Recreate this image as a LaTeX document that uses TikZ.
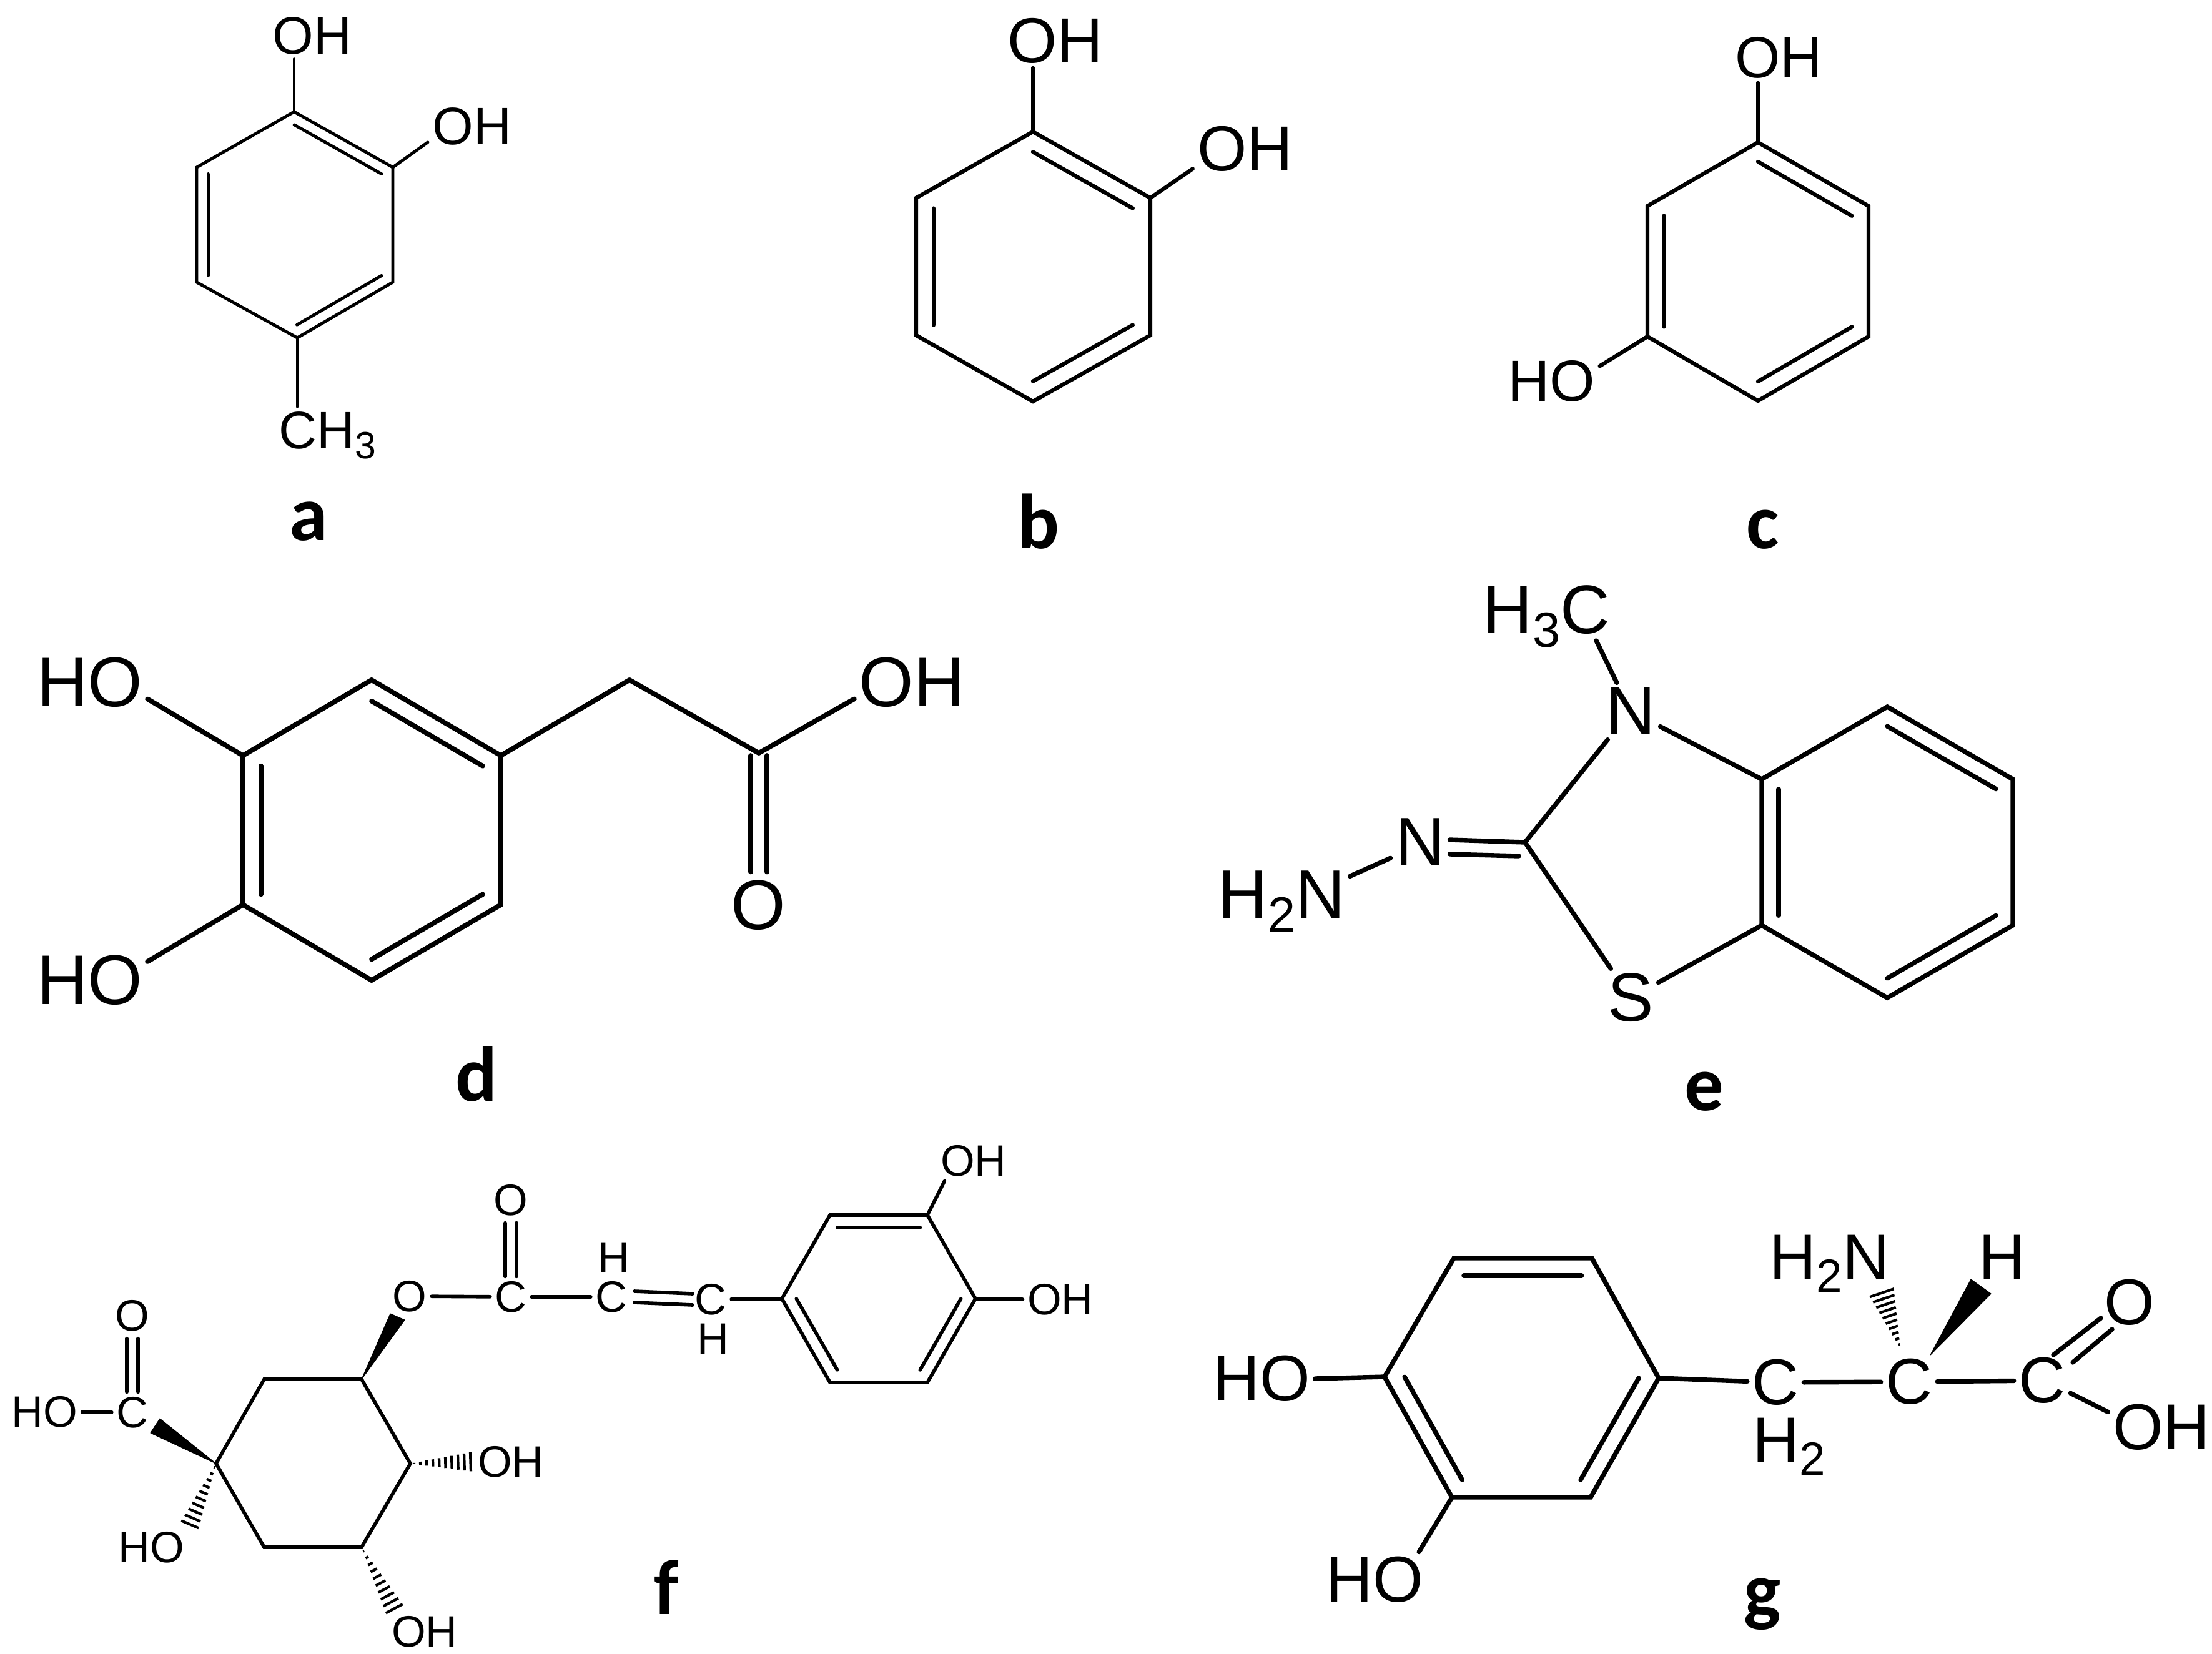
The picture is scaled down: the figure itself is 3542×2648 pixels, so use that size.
\documentclass[tikz,border=0pt]{standalone}
\usepackage{fontspec}
\setmainfont{Liberation Sans}
\newfontfamily\labelfont{Carlito}
\usetikzlibrary{calc}
\newcommand{\subtxt}[1]{\raisebox{-.2em}{\scalebox{.72}{#1}}}
\tikzset{
    atom/.style =   {inner sep=2pt,
                    text=black,
                    font=\fontsize{#1}{#1}\selectfont},
    letter/.style = {anchor=base,
                    inner sep=0pt,
                    text=black,
                    font=\labelfont\bfseries\fontsize{35.5}{36}\selectfont},
    bond/.style =   {draw=black,
                    line width=#1,
                    line cap=round},
    wedgebond/.style = {fill=black,
                    draw=black,
                    line width=.3pt,
                    line join=round},
    hashline/.style = {draw=black,
                    line width=1.2pt}
}
% benzene ring: vertices 1..6 and centre c must exist
\newcommand{\ringmol}[3]{
    \draw[bond=#2] (#11) -- (#12) -- (#13) -- (#14) -- (#15) -- (#16) -- cycle;
    \foreach \p/\q in {1/2,3/4,5/6}
        \draw[bond=#2] ($(#1\p)!#3!(#1c)$) -- ($(#1\q)!#3!(#1c)$);
}
\newcommand{\hashbond}[3]{
    \foreach \t in {0.06,0.16,...,0.97} {
        \pgfmathsetmacro\hw{\t*#3}
        \draw[hashline] ($#1!\t!#2!\hw pt!90:#2$) -- ($#1!\t!#2!\hw pt!-90:#2$);
    }
}
\begin{document}
\begin{tikzpicture}[x=0.01cm,y=-0.01cm]
    \useasboundingbox[fill=white] (0,0) rectangle (3542,2648);

    % a
    \begin{scope}[xshift=-.02cm]
    \coordinate (a1) at (473,179); \coordinate (a2) at (631,268); \coordinate (a3) at (631,452);
    \coordinate (a4) at (478,541); \coordinate (a5) at (317,452); \coordinate (a6) at (317,268);
    \coordinate (ac) at (474,360);
    \ringmol{a}{1.4pt}{.115}
    \node[atom=24] (aOHa) at (502,57) {OH};
    \node[atom=24] (aOHb) at (758,202) {OH};
    \node[atom=24,anchor=base west] (aCH) at (441,718) {CH\subtxt{3}};
    \path [bond=1.4pt] (a1) edge (a1 |- aOHa.south)
                       (a2) edge (aOHb.200)
                       (a4) edge (a4 |- aCH.north);
    \node[letter] (aL) at (496,865) {a};
    \end{scope}

    % b
    \begin{scope}[xshift=-.06cm]
    \coordinate (b1) at (1660,211); \coordinate (b2) at (1848,317); \coordinate (b3) at (1848,537);
    \coordinate (b4) at (1660,643); \coordinate (b5) at (1473,537); \coordinate (b6) at (1473,317);
    \coordinate (bc) at (1660,427);
    \ringmol{b}{1.8pt}{.15}
    \node[atom=29] (bOHa) at (1696,65) {OH};
    \node[atom=29] (bOHb) at (2000,238) {OH};
    \path [bond=1.8pt] (b1) edge (b1 |- bOHa.south)
                       (b2) edge (bOHb.201);
    \node[letter] (bL) at (1669,878) {b};
    \end{scope}

    % c
    \begin{scope}[xshift=-.03cm]
    \coordinate (c1) at (2818,228); \coordinate (c2) at (2995,330); \coordinate (c3) at (2995,539);
    \coordinate (c4) at (2818,642); \coordinate (c5) at (2641,539); \coordinate (c6) at (2641,330);
    \coordinate (cc) at (2818,435);
    \ringmol{c}{1.8pt}{.15}
    \node[atom=26.5] (cOHa) at (2851,92) {OH};
    \node[atom=26.5] (cHO) at (2487,610) {HO};
    \path [bond=1.8pt] (c1) edge (c1 |- cOHa.south)
                       (c5) edge (cHO.17);
    \node[letter] (cL) at (2826,878) {c};
    \end{scope}

    % d
    \begin{scope}[xshift=-.05cm]
    \coordinate (d1) at (600,1089); \coordinate (d2) at (807,1210); \coordinate (d3) at (807,1449);
    \coordinate (d4) at (600,1570); \coordinate (d5) at (394,1449); \coordinate (d6) at (394,1210);
    \coordinate (dc) at (600,1330);
    \coordinate (dCa) at (1013,1089); \coordinate (dCb) at (1220,1206);
    \ringmol{d}{2.2pt}{.14}
    \node[atom=32] (dHOa) at (149,1093) {HO};
    \node[atom=32] (dHOb) at (149,1570) {HO};
    \node[atom=32] (dOH) at (1465,1093) {OH};
    \node[atom=32] (dO) at (1219,1450) {O};
    \path [bond=2.2pt] (d6) edge (dHOa.-16)
                     (d5) edge (dHOb.18)
                     (d2) edge (dCa)
                     (dCa) edge (dCb)
                     (dCb) edge (dOH.196)
                     ($(dCb)+(-13,4)$) edge ($(dO.north)+(-12,-6)$)
                     ($(dCb)+(13,4)$) edge ($(dO.north)+(14,-6)$);
    \node[letter] (dL) at (768,1763) {d};
    \end{scope}

    % e
    \begin{scope}[xshift=-.05cm]
    \coordinate (e1) at (3027,1132); \coordinate (e2) at (3228,1248); \coordinate (e3) at (3228,1482);
    \coordinate (e4) at (3027,1598); \coordinate (e5) at (2826,1482); \coordinate (e6) at (2826,1248);
    \coordinate (ec) at (3027,1365);
    \coordinate (eC) at (2447,1349); \coordinate (eCHb) at (2561,1026);
    \ringmol{e}{2.1pt}{.134}
    \node[atom=31.3] (eNa) at (2616,1139) {N};
    \node[atom=31.3] (eS) at (2616,1598) {S};
    \node[atom=31.3] (eNb) at (2279,1349) {N};
    \node[atom=31.3,anchor=base west] (eCH) at (2372,1014) {H\subtxt{3}C};
    \node[atom=31.3,anchor=base west] (eHN) at (1948,1470) {H\subtxt{2}N};
    \path [bond=2.1pt] (eCHb) edge (eNa)
                       (eNa) edge (e6)
                       (eNa) edge (eC)
                       (eS) edge (eC)
                       (eS) edge (e5)
                       (eHN.20) edge (eNb.208)
                       ($(eNb.east)+(0,-4)$) edge (eC)
                       ($(eNb.east)+(0,19)$) edge ($(eC)+(-10,22)$);
    \node[letter] (eL) at (2734,1778) {e};
    \end{scope}

    % f
    \begin{scope}[xshift=-.04cm]
    \coordinate (fa1) at (1333,1946); \coordinate (fa2) at (1489,1946); \coordinate (fa3) at (1566,2080);
    \coordinate (fa4) at (1489,2214); \coordinate (fa5) at (1333,2214); \coordinate (fa6) at (1256,2080);
    \coordinate (fac) at (1411,2080);
    \coordinate (fq1) at (427,2209); \coordinate (fq2) at (583,2209); \coordinate (fq3) at (661,2344);
    \coordinate (fq4) at (583,2478); \coordinate (fq5) at (427,2478); \coordinate (fq6) at (350,2344);
    \coordinate (fWa) at (629,2104); \coordinate (fWb) at (652,2114);
    \coordinate (fWc) at (260,2272); \coordinate (fWd) at (245,2295);
    \ringmol{fa}{1.6pt}{.15}
    \draw[bond=1.6pt] (fq1) -- (fq2) -- (fq3) -- (fq4) -- (fq5) -- (fq6) -- cycle;
    \node[atom=20] (fOHa) at (1563,1859) {OH};
    \node[atom=20] (fOHb) at (1702,2081) {OH};
    \node[atom=20] (fCc) at (1142,2081) {C};
    \node[atom=20] (fCb) at (983,2077) {C};
    \node[atom=20] (fCa) at (822,2077) {C};
    \node[atom=20,inner sep=0pt] (fHb) at (1146,2144) {H};
    \node[atom=20,inner sep=0pt] (fHa) at (987,2014) {H};
    \node[atom=20] (fOa) at (822,1922) {O};
    \node[atom=20] (fOb) at (660,2076) {O};
    \node[atom=20] (fCd) at (216,2262) {C};
    \node[atom=20] (fOc) at (216,2107) {O};
    \node[atom=20] (fHOa) at (75,2261) {HO};
    \node[atom=20] (fHOb) at (246,2478) {HO};
    \node[atom=20] (fOHc) at (822,2341) {OH};
    \node[atom=20] (fOHd) at (684,2613) {OH};
    \path [bond=1.6pt] (fa2) edge (fOHa.215)
                        (fa3) edge (fOHb.west)
                        (fa6) edge (fCc)
                        (fCa) edge (fCb)
                        (fOb) edge (fCa)
                        (fHOa) edge (fCd)
                        ($(fCb.east)+(4,-9)$) edge ($(fCc.west)+(4,-9)$)
                        ($(fCb.east)+(4,9)$) edge ($(fCc.west)+(4,9)$)
                        ($(fOa.south)+(-9,4)$) edge ($(fCa.north)+(-9,0)$)
                        ($(fOa.south)+(9,4)$) edge ($(fCa.north)+(9,0)$)
                        ($(fOc.south)+(-9,4)$) edge ($(fCd.north)+(-9,0)$)
                        ($(fOc.south)+(9,4)$) edge ($(fCd.north)+(9,0)$);
    \fill[wedgebond] (fq2) -- (fWa) -- (fWb) -- cycle;
    \fill[wedgebond] (fq6) -- (fWc) -- (fWd) -- cycle;
    \hashbond{(fq3)}{(fOHc.west)}{4.5}
    \hashbond{(fq6)}{(fHOb.north east)}{4.5}
    \hashbond{(fq4)}{(fOHd.145)}{4.5}
    \node[letter] (fL) at (1071,2585) {f};
    \end{scope}

    % g
    \begin{scope}[xshift=-.04cm]
    \coordinate (g1) at (2332,2015); \coordinate (g2) at (2553,2015); \coordinate (g3) at (2660,2207);
    \coordinate (g4) at (2551,2398); \coordinate (g5) at (2329,2398); \coordinate (g6) at (2221,2205);
    \coordinate (gc) at (2441,2207);
    \coordinate (gWa) at (3095,2170); \coordinate (gWb) at (3160,2049); \coordinate (gWc) at (3192,2072);
    \coordinate (gHa) at (3047,2159); \coordinate (gHb) at (3016,2067);
    \coordinate (gDa) at (3292,2170); \coordinate (gDb) at (3368,2111);
    \coordinate (gDc) at (3323,2182); \coordinate (gDd) at (3386,2129);
    \ringmol{g}{2.1pt}{.146}
    \node[atom=29.5] (gHOa) at (2024,2208) {HO};
    \node[atom=29.5] (gHOb) at (2205,2530) {HO};
    \node[atom=29.5] (gCa) at (2847,2214) {C};
    \node[atom=29.5] (gCb) at (3061,2213) {C};
    \node[atom=29.5] (gCc) at (3274,2211) {C};
    \node[atom=29.5] (gO) at (3414,2086) {O};
    \node[atom=29.5] (gOH) at (3465,2286) {OH};
    \node[atom=29.5] (gH) at (3210,2014) {H};
    \node[atom=29.5,anchor=base west] (gHNa) at (2830,2049) {H\subtxt{2}N};
    \node[atom=29.5,anchor=base west,inner sep=0pt] (gHNb) at (2810,2342) {H\subtxt{2}};
    \path [bond=2.1pt] (g6) edge (gHOa.east)
                       (g5) edge (gHOb.32)
                       (g3) edge (gCa)
                       (gCa) edge (gCb)
                       (gCb) edge (gCc)
                       (gCc.-24) edge (gOH.164)
                       (gDa) edge (gDb)
                       (gDc) edge (gDd);
    \fill[wedgebond] (gWa) -- (gWb) -- (gWc) -- cycle;
    \hashbond{(gHa)}{(gHb)}{6}
    \node[letter] (gL) at (2826,2589) {g};
    \end{scope}
\end{tikzpicture}
\end{document}
